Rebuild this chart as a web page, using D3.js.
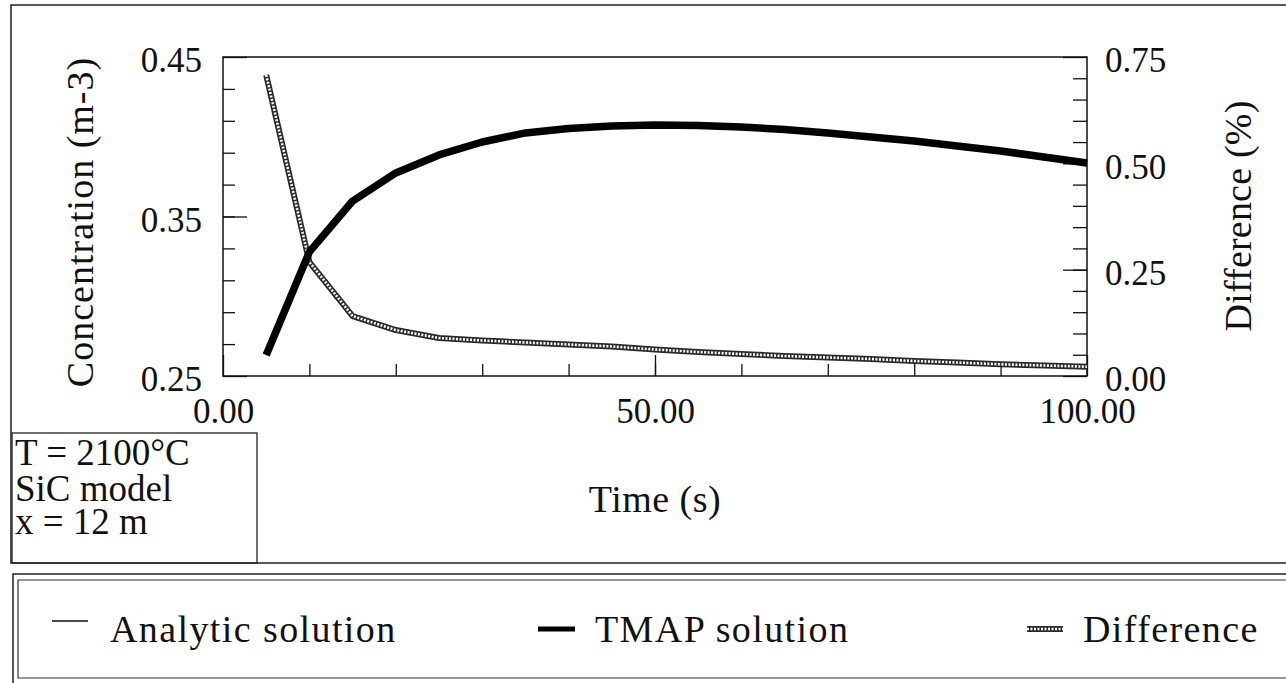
<!DOCTYPE html>
<html>
<head>
<meta charset="utf-8">
<script src="https://cdn.jsdelivr.net/npm/d3@7"></script>
<style>
  body { margin: 0; background: #fff; }
  text { font-family: "Liberation Serif", "Times New Roman", serif; fill: #111; }
</style>
</head>
<body>
<div id="container"></div>
<script>
// time steps (s)
var times = [5, 10, 15, 20, 25, 30, 35, 40, 45, 50, 55, 60, 65, 70, 75, 80, 85, 90, 95, 100];
// TMAP solution, concentration (m-3)
var tmap = [0.2632, 0.3278, 0.3597, 0.3773, 0.3886, 0.3967, 0.4024, 0.4052, 0.4067, 0.4074,
            0.4071, 0.4061, 0.4045, 0.4024, 0.3998, 0.3973, 0.3942, 0.3911, 0.3873, 0.3835];
// analytic solution (lies under the TMAP curve)
var analytic = [0.2630, 0.3276, 0.3596, 0.3772, 0.3885, 0.3966, 0.4023, 0.4051, 0.4066, 0.4073,
                0.4070, 0.4060, 0.4044, 0.4023, 0.3997, 0.3972, 0.3941, 0.3910, 0.3872, 0.3834];
// difference (%)
var diff = [0.7077, 0.268, 0.141, 0.108, 0.0893, 0.0835, 0.0788, 0.0741, 0.0694, 0.0623,
            0.0564, 0.0517, 0.047, 0.0435, 0.040, 0.0353, 0.0317, 0.0275, 0.0247, 0.0219];

var xTicks = [0, 50, 100];
var yLeftTicks = [0.25, 0.35, 0.45];
var yRightTicks = [0, 0.25, 0.5, 0.75];
var infoLines = ["T = 2100°C", "SiC model", "x = 12 m"];
var legendItems = ["Analytic solution", "TMAP solution", "Difference"];

var width = 1286, height = 683;
var svg = d3.select("#container").append("svg")
  .attr("width", width).attr("height", height);

// plot area edges
var pl = 223, pr = 1087, pt = 57, pb = 376;

var x = d3.scaleLinear().domain([0, 100]).range([pl, pr]);
var yL = d3.scaleLinear().domain([0.25, 0.45]).range([pb, pt]);
var yR = d3.scaleLinear().domain([0, 0.75]).range([pb, pt]);
var fmt = d3.format(".2f");
var numSize = 35;

// outer frames
svg.append("path").attr("fill", "none").attr("stroke", "#222").attr("stroke-width", 1.5)
  .attr("d", "M1290,5 H11 V563 H1290");
svg.append("rect").attr("x", 12).attr("y", 433).attr("width", 245).attr("height", 130)
  .attr("fill", "none").attr("stroke", "#222").attr("stroke-width", 1.3);
svg.append("path").attr("fill", "none").attr("stroke", "#222").attr("stroke-width", 1.5)
  .attr("d", "M1290,574 H13 V690");
svg.append("path").attr("fill", "none").attr("stroke", "#333").attr("stroke-width", 1.2)
  .attr("d", "M1290,580 H18 V678 H1290");

// plot box
svg.append("rect").attr("x", pl).attr("y", pt).attr("width", pr - pl).attr("height", pb - pt)
  .attr("fill", "none").attr("stroke", "#111").attr("stroke-width", 1.5);

function styleAxis(g) {
  g.select(".domain").remove();
  g.selectAll(".tick line").attr("stroke", "#111").attr("stroke-width", 1.3);
  g.selectAll("text").style("font-size", numSize + "px").attr("fill", "#111");
}

// minor ticks + major ticks with labels
svg.append("g").attr("transform", "translate(0," + pb + ")")
  .call(d3.axisBottom(x).tickValues(d3.range(10, 100, 10)).tickSize(-12).tickFormat(""))
  .call(styleAxis);
svg.append("g").attr("transform", "translate(0," + pb + ")")
  .call(d3.axisBottom(x).tickValues(xTicks).tickSize(-21).tickPadding(22).tickFormat(fmt))
  .call(styleAxis);

svg.append("g").attr("transform", "translate(" + pl + ",0)")
  .call(d3.axisLeft(yL).tickValues(d3.range(0.27, 0.45, 0.02)).tickSize(-12).tickFormat(""))
  .call(styleAxis);
svg.append("g").attr("transform", "translate(" + pl + ",0)")
  .call(d3.axisLeft(yL).tickValues(yLeftTicks).tickSize(-24).tickPadding(21).tickFormat(fmt))
  .call(styleAxis)
  .selectAll("text").attr("dy", "0.42em");

svg.append("g").attr("transform", "translate(" + pr + ",0)")
  .call(d3.axisRight(yR).tickValues(d3.range(0.05, 0.75, 0.05)).tickSize(-14).tickFormat(""))
  .call(styleAxis);
svg.append("g").attr("transform", "translate(" + pr + ",0)")
  .call(d3.axisRight(yR).tickValues(yRightTicks).tickSize(-24).tickPadding(18).tickFormat(fmt))
  .call(styleAxis)
  .selectAll("text").attr("dy", "0.42em");

// axis titles
svg.append("text").attr("transform", "translate(93,222) rotate(-90)")
  .attr("text-anchor", "middle").style("font-size", "38px").style("letter-spacing", "1px")
  .text("Concentration (m-3)");
svg.append("text").attr("transform", "translate(1251,216) rotate(-90)")
  .attr("text-anchor", "middle").style("font-size", "38px").style("letter-spacing", "0.2px")
  .text("Difference (%)");
svg.append("text").attr("x", 655).attr("y", 512)
  .attr("text-anchor", "middle").style("font-size", "38px").style("letter-spacing", "0.5px")
  .text("Time (s)");

// info box
svg.selectAll(".info").data(infoLines).enter().append("text")
  .attr("x", 15).attr("y", function(d, i) { return [465, 501, 534][i]; })
  .style("font-size", "37px")
  .text(function(d) { return d; });

// lines
var line = function(vals, scale) {
  return d3.line().x(function(d, i) { return x(times[i]); }).y(function(d) { return scale(d); })(vals);
};

function diffStroke(sel) {
  sel.append("path").attr("d", sel.datum()).attr("fill", "none")
    .attr("stroke", "#2a2a2a").attr("stroke-width", 6).attr("stroke-linejoin", "round");
  sel.append("path").attr("d", sel.datum()).attr("fill", "none")
    .attr("stroke", "#fff").attr("stroke-width", 2.6).attr("stroke-dasharray", "2,1.5");
}

svg.append("g").datum(line(diff, yR)).call(diffStroke);

svg.append("path").attr("d", line(tmap, yL)).attr("fill", "none")
  .attr("stroke", "#000").attr("stroke-width", 7.5).attr("stroke-linejoin", "round");
svg.append("path").attr("d", line(analytic, yL)).attr("fill", "none")
  .attr("stroke", "#000").attr("stroke-width", 1.2);

// legend
var lg = svg.append("g");
lg.append("line").attr("x1", 52).attr("x2", 88).attr("y1", 621).attr("y2", 621)
  .attr("stroke", "#111").attr("stroke-width", 1.3);
lg.append("line").attr("x1", 538).attr("x2", 575).attr("y1", 629).attr("y2", 629)
  .attr("stroke", "#000").attr("stroke-width", 5);
lg.append("g").datum("M1027,629 H1063").call(diffStroke);
lg.selectAll(".lt").data(legendItems).enter().append("text")
  .attr("x", function(d, i) { return [110, 595, 1083][i]; }).attr("y", 642)
  .style("font-size", "38px").style("letter-spacing", "1.4px")
  .text(function(d) { return d; });
</script>
</body>
</html>
